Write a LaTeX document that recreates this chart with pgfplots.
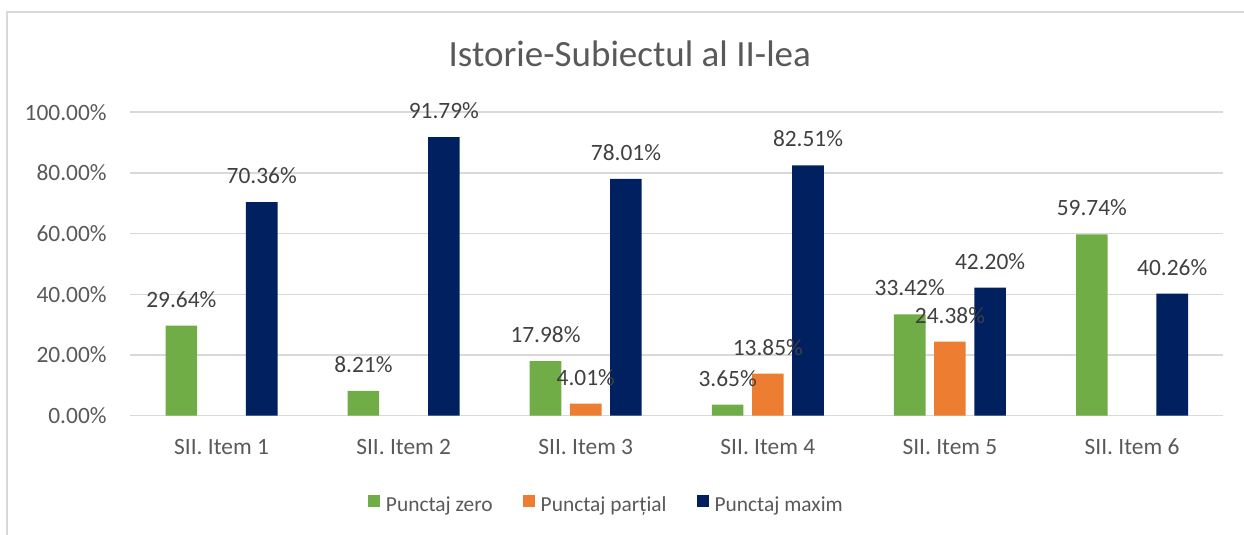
\documentclass[border=0pt]{standalone}
\usepackage{pgfplots}
\pgfplotsset{compat=1.18}
\usepackage{fontspec}
\setmainfont{Carlito}
\definecolor{cgreen}{HTML}{70AD47}
\definecolor{corange}{HTML}{ED7D31}
\definecolor{cnavy}{HTML}{002060}
\definecolor{gridgray}{HTML}{D9D9D9}
\definecolor{tickgray}{HTML}{595959}
\definecolor{labgray}{HTML}{404040}
\begin{document}
\begin{tikzpicture}
\useasboundingbox (-65.25pt,-59.65pt) rectangle (556.75pt,207.85pt);
\begin{axis}[
  at={(0pt,0pt)}, anchor=south west,
  scale only axis,
  width=546.3pt, height=151.75pt,
  xmin=-0.5, xmax=5.5, ymin=0, ymax=100,
  clip=false,
  ybar, bar width=15.8pt,
  /pgf/number format/assume math mode=true,
  axis x line=bottom, axis y line=left,
  x axis line style={draw=gridgray, line width=0.75pt, -},
  y axis line style={draw=none},
  ymajorgrids, grid style={draw=gridgray, line width=0.75pt},
  major tick length=0pt,
  xtick={0,1,2,3,4,5},
  xticklabels={SII. Item 1,SII. Item 2,SII. Item 3,SII. Item 4,SII. Item 5,SII. Item 6},
  ytick={0,20,40,60,80,100},
  yticklabel={\pgfmathprintnumber[fixed,fixed zerofill,precision=2]{\tick}\%},
  ticklabel style={font=\fontsize{11.7pt}{14pt}\selectfont, text=tickgray},
  yticklabel style={anchor=east, inner sep=0pt, xshift=-11.75pt},
  xticklabel style={anchor=base, inner sep=0pt, yshift=-19.3pt},
  nodes near coords={\pgfmathprintnumber[fixed,fixed zerofill,precision=2]{\pgfplotspointmeta}\%},
  nodes near coords style={anchor=base, inner sep=0pt, yshift=9.25pt, font=\fontsize{11.7pt}{14pt}\selectfont, text=labgray},
  legend columns=3,
  legend image code/.code={\fill[#1, draw=none] (0pt,-0.5pt) rectangle (6pt,5.5pt);},
  legend style={at={(118.75pt,-45.15pt)}, anchor=base west, draw=none, fill=none,
    inner sep=0pt, outer sep=0pt,
    font=\fontsize{10.7pt}{13pt}\selectfont, text=tickgray,
    /tikz/every odd column/.append style={column sep=3pt},
    /tikz/every even column/.append style={column sep=15pt},
    nodes={inner sep=0pt}},
  legend cell align=left,
]
\addplot[fill=cgreen, draw=none, bar shift=-20.1pt] coordinates {(0,29.64) (1,8.21) (2,17.98) (3,3.65) (4,33.42) (5,59.74)};
\addlegendentry{Punctaj zero}
\addplot[fill=corange, draw=none, bar shift=0pt] coordinates {(2,4.01) (3,13.85) (4,24.38)};
\addlegendentry{Punctaj parțial}
\addplot[fill=cnavy, draw=none, bar shift=20.1pt] coordinates {(0,70.36) (1,91.79) (2,78.01) (3,82.51) (4,42.20) (5,40.26)};
\addlegendentry{Punctaj maxim}
\node[anchor=base, font=\fontsize{18.5pt}{22pt}\selectfont, text=tickgray] at (axis description cs:0.457,1.149) {Istorie-Subiectul al II-lea};
\end{axis}
\draw[gridgray, line width=0.6pt] (-61.75pt,-80pt) rectangle (600pt,201.85pt);
\end{tikzpicture}
\end{document}
